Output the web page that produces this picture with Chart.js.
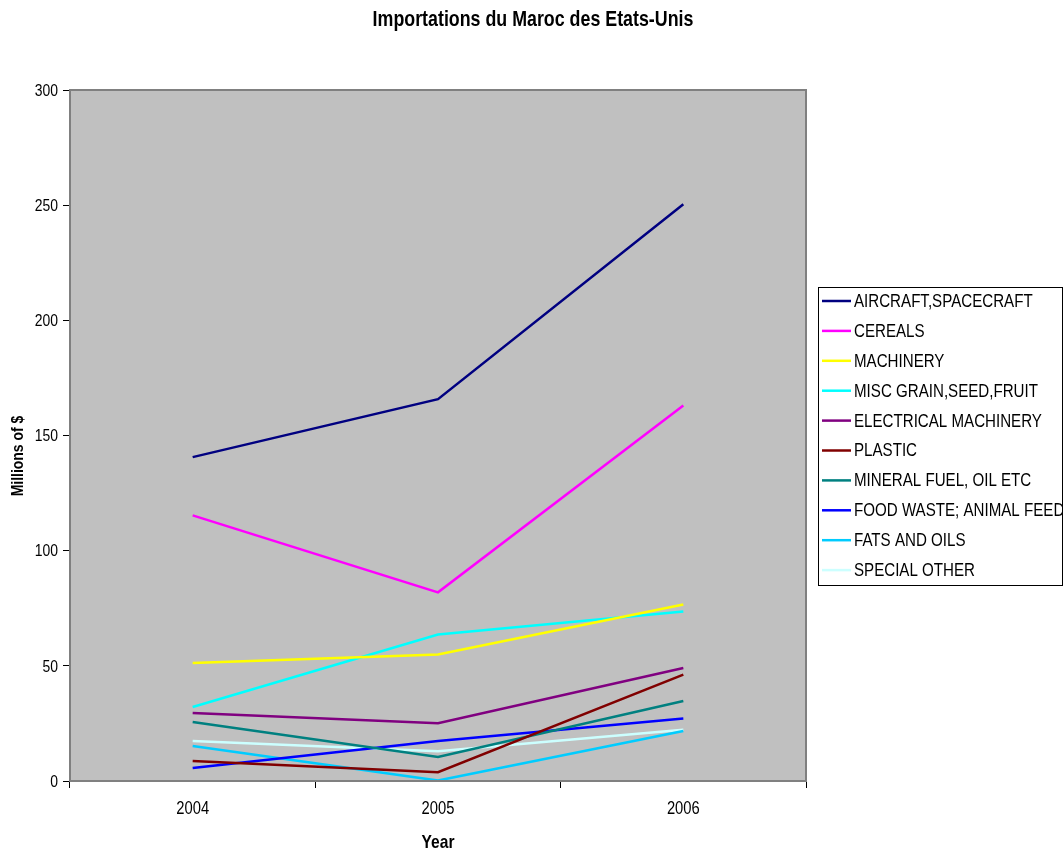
<!DOCTYPE html>
<html>
<head>
<meta charset="utf-8">
<script src="https://cdn.jsdelivr.net/npm/chart.js@4/dist/chart.umd.min.js"></script>
<style>
  html, body { margin: 0; padding: 0; background: #fff; }
  #cadre { width: 1063px; height: 854px; }
</style>
</head>
<body>
<div id="cadre"><canvas id="graphique"></canvas></div>
<script>
// Données (millions de $)
const annees = ['2004', '2005', '2006'];
const aircraft = [140.6, 165.8, 250.4];
const cereals = [115.3, 81.9, 163.0];
const machinery = [51.2, 54.9, 76.6];
const miscGrain = [32.1, 63.6, 73.6];
const electrical = [29.5, 25.1, 49.1];
const plastic = [8.7, 3.8, 46.2];
const mineralFuel = [25.6, 10.4, 34.7];
const foodWaste = [5.6, 17.4, 27.1];
const fatsOils = [15.2, 0.2, 21.7];
const specialOther = [17.4, 12.9, 22.3];
const yTicks = [0, 50, 100, 150, 200, 250, 300];

const police = '"Liberation Sans", Arial, sans-serif';

function serie(label, data, couleur) {
  return {
    label: label,
    data: data,
    borderColor: couleur,
    backgroundColor: couleur,
    borderWidth: 2.5,
    pointRadius: 0,
    tension: 0,
    fill: false
  };
}

// texte "étroit" : on comprime horizontalement (pas de police narrow installée)
function texteEtroit(ctx, texte, x, y, font, echelle, align, rotation) {
  ctx.save();
  ctx.translate(x, y);
  if (rotation) ctx.rotate(rotation);
  ctx.scale(echelle, 1);
  ctx.font = font;
  ctx.fillStyle = '#000';
  ctx.textAlign = align;
  ctx.textBaseline = 'middle';
  ctx.fillText(texte, 0, 0);
  ctx.restore();
}

// Titre, titres des axes et étiquettes des graduations
const titres = {
  id: 'titres',
  afterDraw(chart) {
    const ctx = chart.ctx;
    const sx = chart.scales.x, sy = chart.scales.y;
    texteEtroit(ctx, 'Importations du Maroc des Etats-Unis', 533, 20, 'bold 22px ' + police, 0.81, 'center');
    texteEtroit(ctx, 'Millions of $', 18, 456, 'bold 17px ' + police, 0.82, 'center', -Math.PI / 2);
    texteEtroit(ctx, 'Year', 438, 843, 'bold 19px ' + police, 0.82, 'center');
    yTicks.forEach(v => {
      texteEtroit(ctx, String(v), 58, sy.getPixelForValue(v) + 1, '17px ' + police, 0.82, 'right');
    });
    annees.forEach((a, i) => {
      texteEtroit(ctx, a, sx.getPixelForValue(i), 809, '18px ' + police, 0.82, 'center');
    });
  }
};

// Fond gris de la zone de tracé + cadre
const fondZone = {
  id: 'fondZone',
  beforeDraw(chart) {
    const { ctx, chartArea: a } = chart;
    ctx.save();
    ctx.fillStyle = '#C0C0C0';
    ctx.fillRect(a.left, a.top, a.right - a.left, a.bottom - a.top);
    ctx.restore();
  },
  afterDraw(chart) {
    const { ctx, chartArea: a } = chart;
    ctx.save();
    ctx.strokeStyle = '#808080';
    ctx.lineWidth = 2;
    ctx.strokeRect(a.left, a.top, a.right - a.left, a.bottom - a.top);
    ctx.restore();
  }
};

// Légende encadrée à droite
const legendeBoite = {
  id: 'legendeBoite',
  afterDraw(chart) {
    const ctx = chart.ctx;
    const x = 818, y = 287, w = 244, h = 298;
    ctx.save();
    ctx.fillStyle = '#fff';
    ctx.fillRect(x, y, w, h);
    ctx.strokeStyle = '#000';
    ctx.lineWidth = 1;
    ctx.strokeRect(x + 0.5, y + 0.5, w, h);
    chart.data.datasets.forEach((ds, i) => {
      const yy = 301 + i * 29.9;
      ctx.strokeStyle = ds.borderColor;
      ctx.lineWidth = 2.5;
      ctx.beginPath();
      ctx.moveTo(822, yy);
      ctx.lineTo(851, yy);
      ctx.stroke();
      texteEtroit(ctx, ds.label, 854, yy + 1, '18px ' + police, 0.84, 'left');
    });
    ctx.restore();
  }
};

new Chart(document.getElementById('graphique'), {
  type: 'line',
  data: {
    labels: annees,
    datasets: [
      serie('AIRCRAFT,SPACECRAFT', aircraft, '#000080'),
      serie('CEREALS', cereals, '#FF00FF'),
      serie('MACHINERY', machinery, '#FFFF00'),
      serie('MISC GRAIN,SEED,FRUIT', miscGrain, '#00FFFF'),
      serie('ELECTRICAL MACHINERY', electrical, '#800080'),
      serie('PLASTIC', plastic, '#800000'),
      serie('MINERAL FUEL, OIL ETC', mineralFuel, '#008080'),
      serie('FOOD WASTE; ANIMAL FEED', foodWaste, '#0000FF'),
      serie('FATS AND OILS', fatsOils, '#00CCFF'),
      serie('SPECIAL OTHER', specialOther, '#CCFFFF')
    ]
  },
  options: {
    responsive: true,
    maintainAspectRatio: false,
    animation: false,
    layout: { padding: { left: 0, right: 257, top: 90, bottom: 0 } },
    scales: {
      x: {
        offset: true,
        afterFit: s => { s.height = 73; },
        grid: {
          offset: true,
          drawOnChartArea: false,
          drawTicks: true,
          tickLength: 7,
          color: '#000'
        },
        border: { display: false },
        ticks: { display: false }
      },
      y: {
        min: 0,
        max: 300,
        afterFit: s => { s.width = 70; },
        afterBuildTicks: s => { s.ticks = yTicks.map(v => ({ value: v })); },
        grid: {
          drawOnChartArea: false,
          drawTicks: true,
          tickLength: 7,
          color: '#000'
        },
        border: { display: false },
        ticks: { display: false }
      }
    },
    plugins: {
      legend: { display: false },
      tooltip: { enabled: false },
      title: { display: false }
    }
  },
  plugins: [fondZone, legendeBoite, titres]
});
</script>
</body>
</html>
